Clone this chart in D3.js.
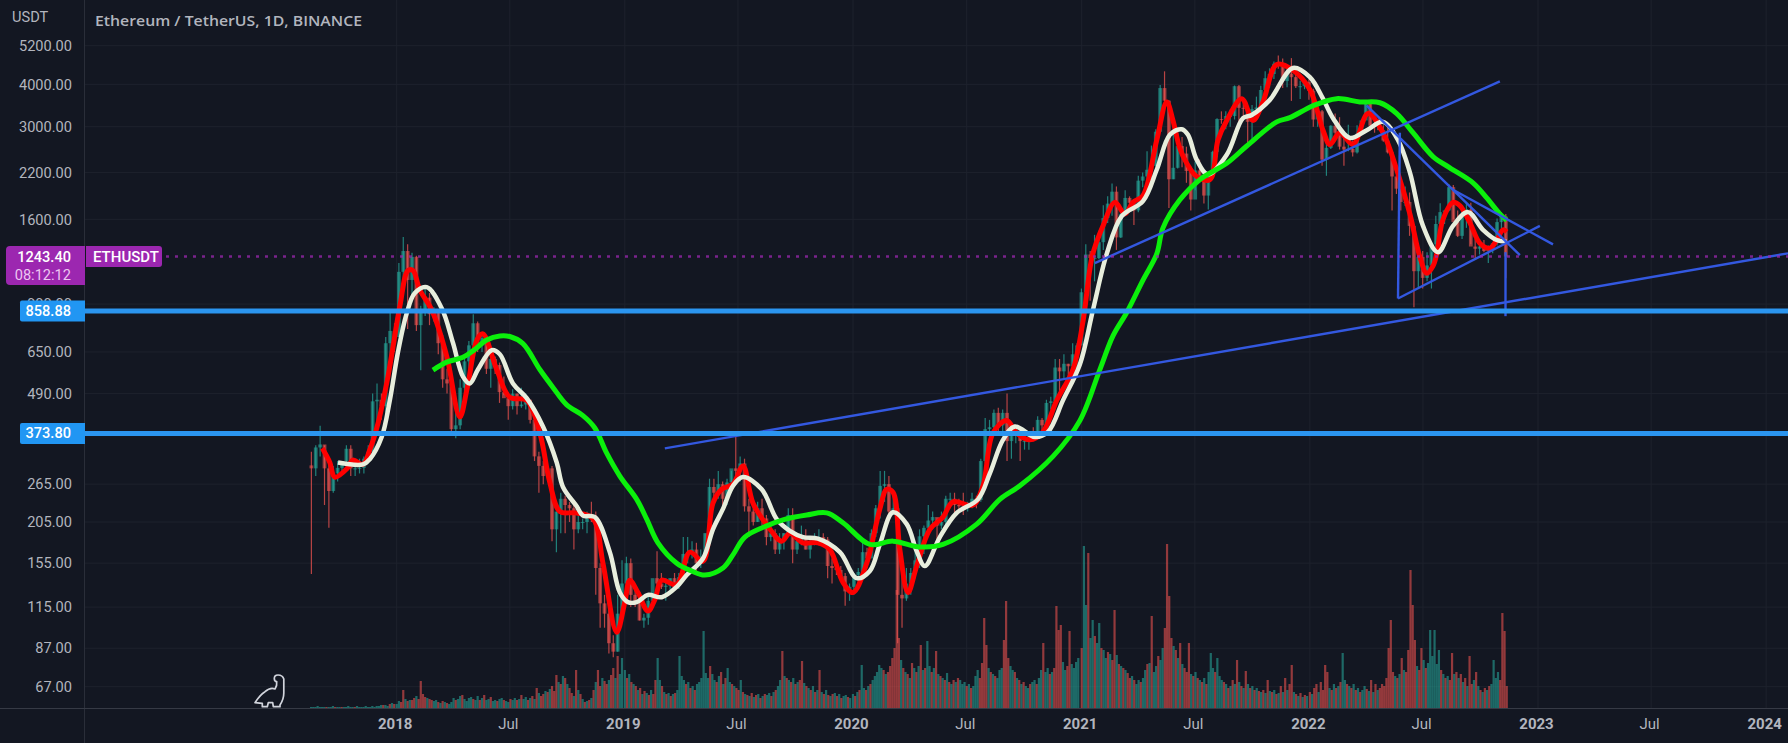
<!DOCTYPE html>
<html>
<head>
<meta charset="utf-8">
<title>Ethereum / TetherUS</title>
<script src="https://cdn.jsdelivr.net/npm/d3@7"></script>
<style>
  html, body { margin: 0; padding: 0; background: #131722; overflow: hidden; }
  text { font-family: Roboto, "Noto Sans", sans-serif; }
</style>
</head>
<body>
<div id="chart"></div>
<script>
// price axis and time axis labels
const priceTicks = [5200, 4000, 3000, 2200, 1600, 900, 650, 490, 370, 265, 205, 155, 115, 87, 67];
const yearTicks = ["2018", "2019", "2020", "2021", "2022", "2023", "2024"];
const julyTicks = ["2018", "2019", "2020", "2021", "2022", "2023"];

// weekly candles, first week starts 2017-08-14
const candleHigh = [
  330,345,394,345,310,300,310,310,345,345,310,315,320,345,490,525,490,720,860,790,
  1190,1420,1350,1275,1250,890,1000,970,880,870,730,580,545,440,540,620,700,840,800,740,720,630,630,605,550,480,505,490,510,490,470,420,330,310,300,300,220,250,245,235,235,230,210,220,235,220,155,125,120,95,125,158,
  162,160,130,122,110,125,125,168,145,140,140,145,145,185,185,180,178,170,190,275,275,290,270,275,290,366,320,315,240,235,235,240,215,200,195,190,190,225,225,185,200,195,185,190,195,190,185,160,155,152,145,135,
  145,150,178,172,195,230,290,290,280,250,225,150,150,150,175,195,200,230,220,210,220,245,250,250,240,250,235,250,245,315,415,410,440,445,440,490,390,395,390,375,380,390,420,415,470,480,620,620,640,600,690,690,
  1000,1350,1290,1440,1480,1760,1870,2040,2000,1670,1950,1870,1800,2150,2200,2540,2640,2950,3980,4370,3590,2910,2890,2800,2620,2290,2370,2400,2140,2200,2550,3180,3330,3335,3370,3970,3985,3670,3400,3475,3680,3960,4375,4460,4670,4868,4770,4550,4780,4440,4100,4130,4140,
  3880,3410,3360,2720,3030,3280,3200,2830,3040,2730,3030,3150,3580,3560,3050,3180,3030,2970,2460,2160,2030,2000,1920,1530,1265,1290,1280,1280,1640,1785,1680,2030,2020,1700,1690,1790,1790,1400,1400,1390,1340,1340,1610,1680,1660
];
const candleLow = [
  144,280,320,230,197,250,270,285,290,280,280,285,285,305,330,400,410,430,560,650,
  720,980,760,960,750,574,830,780,800,640,510,490,375,362,385,490,580,650,650,650,560,510,560,460,485,410,440,425,445,440,400,310,250,265,270,180,167,190,190,205,170,190,195,190,205,125,100,100,84,81.8,85,108,
  130,115,115,105,100,102,118,125,130,120,125,130,130,140,155,160,145,150,160,185,230,240,225,230,255,270,270,220,185,200,205,200,175,180,165,165,170,185,155,165,175,170,160,175,175,180,140,135,143,140,116,120,
  125,135,142,150,165,185,210,235,210,215,90,100,120,125,140,150,165,190,195,175,195,195,225,215,220,215,220,225,225,235,305,370,370,370,370,310,315,350,310,335,335,360,365,370,370,440,440,480,540,530,580,550,
  680,880,920,1050,1220,1300,1560,1640,1300,1410,1700,1730,1540,1680,1990,2100,2000,2290,2950,3500,1728,2100,2260,2280,2050,1700,1950,2050,1780,1710,2150,2440,3060,2950,3000,3150,3000,3200,2650,2750,3280,3400,3690,3910,4150,4450,3900,3920,3575,3900,3620,3870,3600,
  3000,3000,2300,2150,2580,2850,2570,2300,2540,2450,2500,2840,3200,3020,2880,2960,2710,2500,1700,1900,1700,1750,1430,880,1000,1000,1050,1000,1290,1350,1550,1690,1600,1420,1400,1510,1350,1220,1260,1280,1190,1270,1340,1500,1073
];
const candleClose = [
  295,340,347,295,253,285,296,310,337,295,295,296,315,330,465,470,450,690,750,720,
  1120,1290,1060,1240,780,860,940,840,860,690,540,525,385,395,510,610,680,790,680,715,580,620,595,495,475,450,490,450,455,470,410,320,300,280,295,195,220,240,230,225,195,205,205,215,210,150,118,110,90,85,110,135,
  155,125,118,105,107,120,140,135,132,133,140,134,141,165,165,170,155,162,190,260,250,265,240,268,295,290,305,228,220,205,225,210,185,190,170,180,190,215,170,180,185,170,180,180,185,182,152,150,148,142,128,132,
  143,146,167,160,190,225,262,265,220,225,125,122,135,145,158,186,197,207,212,200,205,240,240,230,228,225,228,240,238,310,385,390,430,395,430,355,375,385,355,355,375,370,410,395,460,465,585,570,600,590,640,680,
  975,1260,1230,1230,1370,1615,1780,1930,1415,1660,1850,1790,1700,2080,2140,2240,2300,2900,3900,3580,2100,2270,2630,2500,2220,1830,2230,2120,1880,2190,2530,3160,3150,3225,3225,3950,3410,3400,3100,3380,3420,3850,4170,4290,4600,4570,4090,4300,4200,3950,3950,4060,3830,
  3150,3330,2400,2600,3020,2880,2620,2570,2580,2520,2860,3130,3530,3020,3000,2930,2730,2520,2140,1970,1800,1800,1530,1125,1240,1075,1170,1350,1550,1680,1700,1990,1570,1430,1630,1710,1330,1310,1330,1290,1300,1360,1570,1630,1243
];

// moving averages: days counted from 2018-01-01, price
const redDays = [-119,-107,-99,-79,-70,-54,-43,-30,-14,5,18,26,37,56,80,101,113,129,138,160,181,208,229,245,261,285,314,330,352,365,373,386,402,413,424,448,469,490,506,520,538,554,570,593,616,629,650,674,693,714,730,752,773,784,794,805,818,832,853,874,890,922,938,954,976,992,1013,1034,1056,1082,1098,1113,1130,1149,1165,1178,1194,1216,1232,1242,1253,1264,1280,1301,1314,1328,1352,1370,1386,1408,1434,1461,1482,1493,1509,1530,1554,1578,1600,1621,1637,1648,1658,1664,1674,1690,1701,1717,1733,1749,1760,1770,1776];
const redPrice = [338,307,278,295,312,303,335,400,550,885,1130,1130,990,865,632,418,511,710,735,577,478,468,375,268,220,218,210,155,97,119,138,127,112,121,138,134,167,157,233,256,265,300,233,200,180,190,178,178,170,136,127,155,224,256,251,170,127,152,195,212,235,230,262,375,408,375,358,378,468,577,800,1250,1530,1795,1660,1795,1880,2740,3550,3130,2590,2340,2140,2095,2740,3130,3630,3130,3550,4580,4400,3860,2930,2660,2880,2660,3280,2880,2240,1660,1240,1110,1165,1265,1600,1795,1755,1565,1360,1315,1390,1490,1470];
const creamDays = [-94,-54,-43,-24,-11,2,16,29,48,72,90,106,117,130,152,165,186,208,234,256,266,288,298,317,341,357,370,384,402,424,448,464,490,506,522,538,554,584,608,629,650,674,709,736,757,773,794,816,832,845,869,896,930,949,970,989,1021,1042,1066,1093,1114,1136,1160,1194,1216,1237,1256,1266,1280,1298,1328,1354,1368,1397,1434,1461,1482,1498,1525,1552,1578,1602,1621,1642,1666,1690,1714,1738,1760,1776];
const creamPrice = [307,303,314,365,468,649,845,970,1010,875,692,550,525,577,658,640,525,475,392,307,260,228,214,212,167,127,119,119,125,123,132,143,160,195,224,262,278,256,209,193,185,183,167,140,147,176,219,202,168,152,185,218,239,285,358,392,365,378,468,597,865,1265,1635,1810,2240,2840,2950,2840,2395,2170,2480,3180,3250,3600,4470,4200,3630,3180,2780,2930,3100,2740,2200,1530,1280,1530,1680,1490,1390,1375];
const greenDays = [58,80,106,122,144,165,181,202,229,250,272,298,317,336,357,384,400,418,448,472,493,522,538,557,593,618,656,688,714,757,794,837,874,928,965,997,1050,1093,1125,1146,1168,1194,1216,1226,1253,1285,1328,1360,1408,1429,1466,1504,1541,1573,1600,1626,1658,1685,1722,1744,1765,1776];
const greenPrice = [575,607,627,655,705,725,722,688,577,511,454,422,388,327,280,239,209,178,155,147,143,150,164,185,200,208,215,218,204,176,180,173,176,202,239,262,320,408,577,725,850,1059,1265,1510,1827,2095,2340,2632,3100,3190,3460,3630,3550,3530,3280,2880,2450,2270,2050,1850,1660,1590];

// hand drawn trend lines, start and end as day / price
const trendStartDay = [429, 1117, 1552, 1690, 1602, 1605, 1774];
const trendStartPrice = [338, 1189, 3460, 1956, 935, 2880, 1280];
const trendEndDay = [2226, 1765, 1797, 1850, 1829, 1602, 1774];
const trendEndPrice = [1270, 4080, 1255, 1350, 1530, 935, 829];

// horizontal levels
const levelPrices = [858.88, 373.8];
const lastPrice = 1243.4;

// volume per year, sampled every 3.5 days, negative = red bar
const volume2017 = [1,1,1,2,1,1,1,-1,1,1,2,-1,1,1,-1,1,1,2,1,1,-1,2,1,1,1,2,1,1,2,1,2,2,3,-3,3,2,-4,5,-4];
const volume2018 = [4,7,-6,-18,9,-7,8,-8,-10,12,-9,-27,-14,-11,10,-9,-8,7,8,-6,5,-7,6,-5,4,6,10,-8,9,12,-13,9,7,10,11,-9,8,12,-8,10,-13,8,9,-11,7,8,-7,9,10,-8,7,6,-9,8,10,-8,9,-13,9,11,-8,10,-12,9,-20,15,-12,-14,17,-16,19,-22,-17,-33,26,-24,32,-30,24,-20,-15,12,-38,18,-14,9,-6,7,-8,10,-18,26,-38,-22,30,-27,-24,28,-33,-40,30,-52,34,50];
const volume2019 = [38,-30,34,-26,24,-22,18,-20,14,-17,15,-13,18,-14,-28,50,28,-22,16,-14,15,-12,14,-15,18,52,32,28,-24,26,-20,22,-18,24,26,30,77,35,30,-42,34,28,-26,32,-36,24,-30,40,26,-24,22,-20,-18,28,-16,14,-13,12,-15,11,-13,14,-10,12,-14,13,15,-12,16,-18,22,28,-57,32,-30,28,-26,30,-24,26,-28,-47,25,-22,20,-18,22,-16,18,-38,16,-14,18,-13,12,-14,15,-12,14,-10,12,13,-11,10];
const volume2020 = [14,-12,16,-18,43,20,-18,22,-24,28,32,36,43,40,-38,34,-36,-42,-50,-60,-118,-70,48,-40,36,-34,30,-45,40,-36,42,-63,38,-40,67,42,-36,40,-57,34,-32,30,-28,35,-26,24,-28,26,-30,28,24,26,-22,24,-20,22,32,38,-30,-45,-90,-63,40,-36,34,-32,30,38,40,-68,-107,-50,42,38,-36,30,-28,24,-26,22,20,-24,26,28,-24,30,38,-65,36,40,-34,36,-40,-102,-78,-83,46,38,-42,-77,44,40,46,50];
const volume2021 = [-60,162,103,-155,70,88,-72,65,85,-60,58,50,-56,54,-48,-98,53,-44,42,-40,38,-35,-30,32,-28,24,28,-26,30,38,-44,45,-92,36,42,-52,48,60,-80,-164,-112,-70,62,-58,50,-65,44,-40,-36,-65,34,-32,36,-30,28,-26,30,-24,36,55,40,-36,50,32,28,-26,24,-20,22,-28,24,-48,26,-22,20,-37,24,-20,22,-18,20,-17,16,-18,15,-28,17,-16,18,-14,15,-22,16,-30,18,-24,-43,16,-14,12,-15,11,-13,12];
const volume2022 = [-16,14,-20,-24,16,-26,-18,-43,-36,20,-18,24,-20,22,-26,55,28,-24,22,-20,24,-18,20,-16,18,22,-19,17,-28,16,-24,18,-20,-24,-22,-30,-60,-88,-36,32,-30,34,-50,38,-36,-58,-138,-103,-68,42,-38,-60,48,-40,45,78,52,78,44,58,-38,34,-30,32,-28,-55,34,-36,30,-34,26,-30,22,-52,-24,28,-36,22,-18,16,-20,18,-22,24,48,30,36,-28,-95,-77,-22];
const volumeYears = [
  { start: new Date(2017, 7, 17), values: volume2017 },
  { start: new Date(2018, 0, 1), values: volume2018 },
  { start: new Date(2019, 0, 1), values: volume2019 },
  { start: new Date(2020, 0, 1), values: volume2020 },
  { start: new Date(2021, 0, 1), values: volume2021 },
  { start: new Date(2022, 0, 1), values: volume2022 }
];

const width = 1788;
const height = 743;
const axisWidth = 85;
const paneBottom = 708;

const upColor = "#26a69a";
const downColor = "#ef5350";
const gridColor = "#1e222d";
const textColor = "#b2b5be";
const blue = "#3358e0";

const svg = d3.select("#chart")
    .append("svg")
    .attr("width", width)
    .attr("height", height)
    .style("display", "block")
    .style("background-color", "#131722");

const x = d3.scaleTime()
    .domain([new Date(2018, 0, 1), new Date(2023, 0, 1)])
    .range([396.7, 1538]);

const y = d3.scaleLog()
    .domain([5200, 67])
    .range([45.7, 686.7]);

const volumeY = d3.scaleLinear()
    .domain([0, 164])
    .range([paneBottom, paneBottom - 164]);

const epoch = new Date(2018, 0, 1);
const dayToDate = d => d3.timeDay.offset(epoch, d);
const firstWeek = new Date(2017, 7, 14);

// grid
const yearDates = yearTicks.map(t => new Date(+t, 0, 1));
const julyDates = julyTicks.map(t => new Date(+t, 6, 1));
const timeTicks = yearDates.concat(julyDates).sort((a, b) => a - b);

svg.append("g")
    .selectAll("line")
    .data(timeTicks)
    .join("line")
    .attr("x1", d => x(d))
    .attr("x2", d => x(d))
    .attr("y1", 0)
    .attr("y2", paneBottom)
    .attr("stroke", gridColor);

svg.append("g")
    .selectAll("line")
    .data(priceTicks)
    .join("line")
    .attr("x1", axisWidth)
    .attr("x2", width)
    .attr("y1", d => y(d))
    .attr("y2", d => y(d))
    .attr("stroke", gridColor);

// volume bars
volumeYears.forEach(year => {
    svg.append("g")
        .selectAll("rect")
        .data(year.values)
        .join("rect")
        .attr("x", (d, i) => x(d3.timeHour.offset(year.start, i * 84)) - 1.1)
        .attr("width", 2.2)
        .attr("y", d => volumeY(Math.abs(d)))
        .attr("height", d => paneBottom - volumeY(Math.abs(d)))
        .attr("fill", d => d < 0 ? downColor : upColor)
        .attr("opacity", 0.58);
});

// candles
const weekDate = i => d3.timeHour.offset(firstWeek, i * 168 + 84);
const candleOpen = candleClose.map((c, i) => i === 0 ? 301 : candleClose[i - 1]);
const candleColor = i => candleClose[i] >= candleOpen[i] ? upColor : downColor;

const candles = svg.append("g");
candles.selectAll("line")
    .data(candleHigh)
    .join("line")
    .attr("x1", (d, i) => x(weekDate(i)))
    .attr("x2", (d, i) => x(weekDate(i)))
    .attr("y1", d => y(d))
    .attr("y2", (d, i) => y(candleLow[i]))
    .attr("stroke", (d, i) => candleColor(i))
    .attr("stroke-width", 1.2)
    .attr("opacity", 0.75);
candles.selectAll("rect")
    .data(candleClose)
    .join("rect")
    .attr("x", (d, i) => x(weekDate(i)) - 1.9)
    .attr("width", 3.8)
    .attr("y", (d, i) => Math.min(y(d), y(candleOpen[i])))
    .attr("height", (d, i) => Math.max(1, Math.abs(y(d) - y(candleOpen[i]))))
    .attr("fill", (d, i) => candleColor(i))
    .attr("opacity", 0.6);

// moving averages
const maLine = d3.line()
    .x(d => x(dayToDate(d[0])))
    .y(d => y(d[1]))
    .curve(d3.curveCatmullRom.alpha(0.5));

function drawAverage(days, prices, color, strokeWidth) {
    svg.append("path")
        .datum(days.map((d, i) => [d, prices[i]]))
        .attr("d", maLine)
        .attr("fill", "none")
        .attr("stroke", color)
        .attr("stroke-width", strokeWidth)
        .attr("stroke-linejoin", "round");
}
drawAverage(redDays, redPrice, "#ff0000", 5);
drawAverage(creamDays, creamPrice, "#e8eedd", 4.5);
drawAverage(greenDays, greenPrice, "#0bf00b", 5);

// trend lines
svg.append("g")
    .selectAll("line")
    .data(trendStartDay)
    .join("line")
    .attr("x1", d => x(dayToDate(d)))
    .attr("y1", (d, i) => y(trendStartPrice[i]))
    .attr("x2", (d, i) => x(dayToDate(trendEndDay[i])))
    .attr("y2", (d, i) => y(trendEndPrice[i]))
    .attr("stroke", blue)
    .attr("stroke-width", 2.4);

// last price dots and the levels
svg.append("line")
    .attr("x1", 166)
    .attr("x2", width)
    .attr("y1", y(lastPrice))
    .attr("y2", y(lastPrice))
    .attr("stroke", "#9c27b0")
    .attr("stroke-width", 2.5)
    .attr("stroke-dasharray", "3 6")
    .attr("opacity", 0.75);

svg.append("g")
    .selectAll("line")
    .data(levelPrices)
    .join("line")
    .attr("x1", axisWidth)
    .attr("x2", width)
    .attr("y1", d => y(d))
    .attr("y2", d => y(d))
    .attr("stroke", "#2b95ef")
    .attr("stroke-width", 5);

// bottom border and left axis panel
svg.append("rect")
    .attr("x", 0)
    .attr("y", 0)
    .attr("width", axisWidth)
    .attr("height", paneBottom)
    .attr("fill", "#131722");
svg.append("line")
    .attr("x1", axisWidth - 0.5)
    .attr("x2", axisWidth - 0.5)
    .attr("y1", 0)
    .attr("y2", height)
    .attr("stroke", "#2a2e39");
svg.append("line")
    .attr("x1", 0)
    .attr("x2", width)
    .attr("y1", paneBottom + 0.5)
    .attr("y2", paneBottom + 0.5)
    .attr("stroke", "#363a45");

// axes
const yAxis = d3.axisLeft(y)
    .tickValues(priceTicks)
    .tickSize(0)
    .tickPadding(0)
    .tickFormat(d => d.toFixed(2));
const yAxisG = svg.append("g")
    .attr("transform", "translate(72,0)")
    .call(yAxis);
yAxisG.select(".domain").remove();
yAxisG.selectAll("text")
    .attr("fill", textColor)
    .style("font-size", "14.6px");

const xAxis = d3.axisBottom(x)
    .tickValues(timeTicks)
    .tickSize(0)
    .tickPadding(0)
    .tickFormat(d => d.getMonth() === 0 ? d.getFullYear() : "Jul");
const xAxisG = svg.append("g")
    .attr("transform", `translate(-2,${paneBottom + 10})`)
    .call(xAxis);
xAxisG.select(".domain").remove();
xAxisG.selectAll("text")
    .attr("fill", textColor)
    .style("font-size", "15px")
    .style("font-weight", d => d.getMonth() === 0 ? 700 : 400);

svg.append("text")
    .attr("x", 12)
    .attr("y", 22)
    .attr("fill", textColor)
    .style("font-size", "14.6px")
    .text("USDT");

svg.append("text")
    .attr("x", 95)
    .attr("y", 26)
    .attr("fill", textColor)
    .style("font-family", '"Open Sans", sans-serif')
    .style("font-size", "15px")
    .style("font-weight", 600)
    .attr("textLength", 267)
    .attr("lengthAdjust", "spacingAndGlyphs")
    .text("Ethereum / TetherUS, 1D, BINANCE");

// price labels
svg.append("path")
    .attr("d", "M85,246H10a4,4 0 0 0 -4,4V281a4,4 0 0 0 4,4H85Z")
    .attr("fill", "#9c27b0");
svg.append("text")
    .attr("x", 71)
    .attr("y", 262)
    .attr("text-anchor", "end")
    .attr("fill", "#ffffff")
    .style("font-size", "14.6px")
    .style("font-weight", 500)
    .text(lastPrice.toFixed(2));
svg.append("text")
    .attr("x", 71)
    .attr("y", 280)
    .attr("text-anchor", "end")
    .attr("fill", "#ecc6f2")
    .style("font-size", "14.6px")
    .text("08:12:12");

svg.append("path")
    .attr("d", "M86,246H159a3,3 0 0 1 3,3V264a3,3 0 0 1 -3,3H86Z")
    .attr("fill", "#9c27b0");
svg.append("text")
    .attr("x", 93)
    .attr("y", 262)
    .attr("fill", "#ffffff")
    .style("font-size", "15px")
    .style("font-weight", 500)
    .text("ETHUSDT");

levelPrices.forEach(p => {
    const cy = y(p);
    svg.append("path")
        .attr("d", `M85,${cy - 10.5}H22a2,2 0 0 0 -2,2V${cy + 8.5}a2,2 0 0 0 2,2H85Z`)
        .attr("fill", "#2196f3");
    svg.append("text")
        .attr("x", 71)
        .attr("y", cy + 5)
        .attr("text-anchor", "end")
        .attr("fill", "#ffffff")
        .style("font-size", "14.6px")
        .style("font-weight", 500)
        .text(p.toFixed(2));
});

// dino mark
svg.append("path")
    .attr("transform", "translate(255,675)")
    .attr("d", "M0,27.7C3,23 6,19 10,16.7C13,14 17,12.5 20,14C21.5,12 22,9 21.7,6.7C20,6.5 19.3,5 19.3,3.5C19.3,1 21,0 23,0C26,0 28,1.5 28.8,4V18C28.8,23 27,27 25,30V31.7H18.3L17.7,27.7H13.3L12.3,31.7H7.3V28.3Z")
    .attr("fill", "#131722")
    .attr("stroke", "#d1d4dc")
    .attr("stroke-width", 1.7)
    .attr("stroke-linejoin", "round");
</script>
</body>
</html>
